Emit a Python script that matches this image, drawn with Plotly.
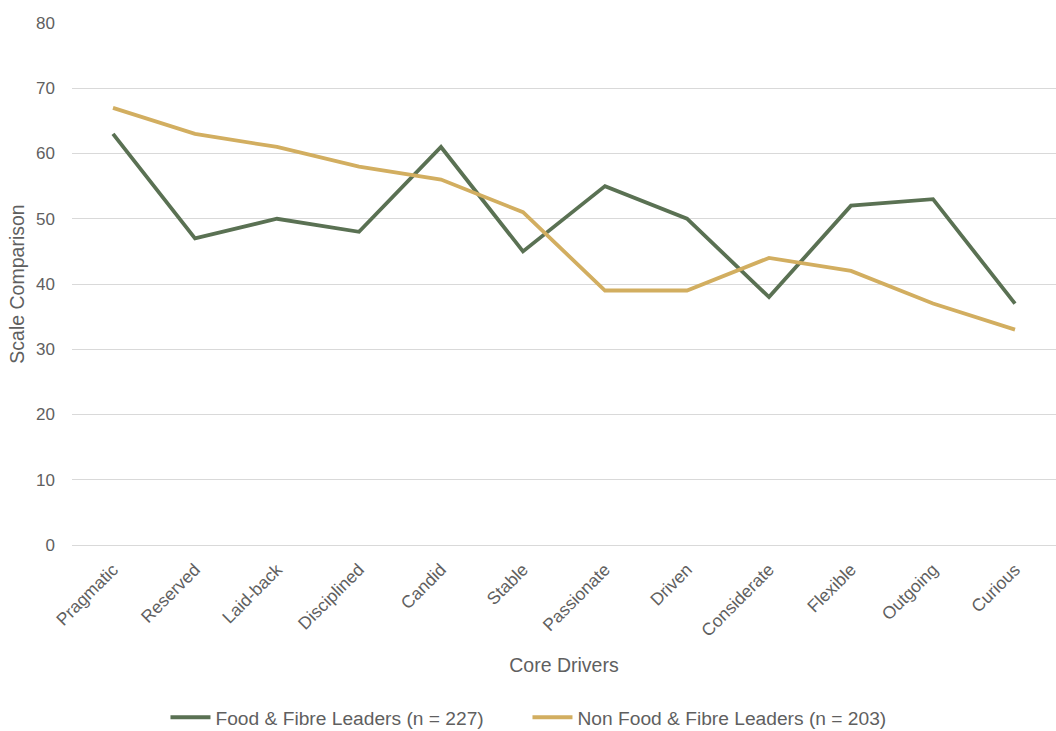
import plotly.graph_objects as go

categories = ["Pragmatic", "Reserved", "Laid-back", "Disciplined", "Candid", "Stable",
              "Passionate", "Driven", "Considerate", "Flexible", "Outgoing", "Curious"]
food_fibre = [63, 47, 50, 48, 61, 45, 55, 50, 38, 52, 53, 37]
non_food_fibre = [67, 63, 61, 58, 56, 51, 39, 39, 44, 42, 37, 33]
y_ticks = [0, 10, 20, 30, 40, 50, 60, 70, 80]

GREEN = "#5a7153"
GOLD = "#d2ae60"
TEXT = "#5f5f5f"

fig = go.Figure()
fig.add_trace(go.Scatter(x=categories, y=food_fibre, mode="lines",
                         name="Food & Fibre Leaders (n = 227)",
                         line=dict(color=GREEN, width=3.8)))
fig.add_trace(go.Scatter(x=categories, y=non_food_fibre, mode="lines",
                         name="Non Food & Fibre Leaders (n = 203)",
                         line=dict(color=GOLD, width=3.8)))

fig.update_layout(
    width=1056, height=731,
    margin=dict(l=72, r=0, t=23, b=186, autoexpand=False),
    paper_bgcolor="white", plot_bgcolor="white",
    font=dict(family="Liberation Sans, Arial, sans-serif", size=17, color=TEXT),
    showlegend=True,
    legend=dict(orientation="h", x=0.095, xanchor="left", y=-0.33, yanchor="middle",
                font=dict(size=19.2, color=TEXT), itemwidth=40,
                entrywidth=307, entrywidthmode="pixels"),
    xaxis=dict(type="category", range=[-0.5, 11.5], tickangle=-45, showgrid=False,
               showline=False, ticks="", ticklabelstandoff=10, automargin=False,
               tickfont=dict(size=17.5, color=TEXT),
               title=dict(text="Core Drivers", font=dict(size=19.5, color=TEXT), standoff=18)),
    yaxis=dict(range=[0, 80], tickvals=y_ticks, showgrid=True, gridcolor="#d9d9d9",
               gridwidth=1.3, zeroline=True, zerolinecolor="#d9d9d9", zerolinewidth=1.3,
               showline=False, ticks="", ticklabelstandoff=16, automargin=False,
               tickfont=dict(size=17, color=TEXT),
               title=dict(text="Scale Comparison", font=dict(size=19.5, color=TEXT), standoff=6)),
)

fig.write_html("out.html")
